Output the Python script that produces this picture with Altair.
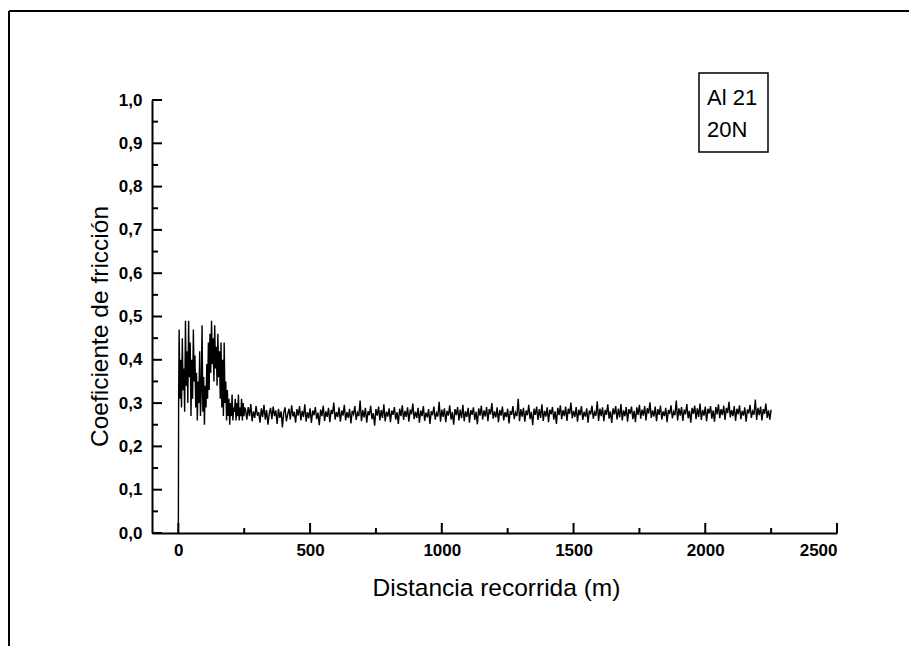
import altair as alt
import pandas as pd

# ---- data ----
dist_start = [0, 1] + list(range(3, 253, 3))
coef_start = [0.0, 0.30,
              0.47, 0.31, 0.40, 0.29, 0.45, 0.33, 0.38, 0.28, 0.49, 0.34,
              0.42, 0.30, 0.49, 0.36, 0.44, 0.27, 0.40, 0.31, 0.47, 0.35,
              0.41, 0.29, 0.37, 0.26, 0.35, 0.30, 0.42, 0.27, 0.33, 0.48,
              0.28, 0.36, 0.25, 0.34, 0.29, 0.39, 0.31, 0.44, 0.33, 0.46,
              0.37, 0.49, 0.39, 0.45, 0.35, 0.48, 0.38, 0.43, 0.34, 0.46,
              0.36, 0.42, 0.31, 0.44, 0.29, 0.40, 0.27, 0.44, 0.30, 0.35,
              0.26, 0.33, 0.27, 0.31, 0.25, 0.30, 0.27, 0.32, 0.26, 0.29,
              0.28, 0.31, 0.26, 0.30, 0.27, 0.32, 0.26, 0.29, 0.27, 0.31,
              0.26, 0.30, 0.27, 0.29]

dist_steady = list(range(255, 2255, 5))
coef_steady = [
    .285, .262, .291, .270, .298, .258, .281, .266, .293, .271,
    .279, .255, .288, .268, .296, .262, .284, .250, .276, .289,
    .263, .292, .270, .283, .252, .287, .266, .281, .244, .278,
    .290, .258, .274, .287, .262, .295, .269, .280, .255, .286,
    .271, .293, .260, .282, .268, .297, .257, .279, .265, .288,
    .254, .283, .272, .291, .263, .278, .249, .285, .270, .294,
    .259, .281, .268, .289, .256, .284, .275, .301, .262, .279,
    .268, .290, .257, .283, .271, .296, .260, .279, .266, .287,
    .253, .282, .274, .293, .261, .278, .270, .306, .258, .284,
    .267, .289, .255, .281, .272, .294, .263, .277, .248, .286,
    .271, .292, .260, .284, .266, .297, .258, .280, .269, .288,
    .256, .283, .273, .291, .262, .279, .252, .287, .270, .295,
    .261, .282, .268, .290, .257, .285, .274, .299, .263, .280,
    .266, .289, .255, .283, .270, .293, .259, .278, .267, .286,
    .252, .281, .272, .292, .262, .277, .269, .303, .257, .285,
    .268, .288, .256, .282, .271, .295, .262, .279, .250, .286,
    .272, .291, .260, .285, .265, .296, .258, .281, .268, .289,
    .255, .284, .273, .290, .261, .280, .251, .288, .271, .294,
    .262, .283, .269, .291, .258, .286, .274, .300, .264, .281,
    .267, .290, .256, .284, .271, .292, .260, .279, .268, .287,
    .253, .282, .273, .293, .263, .278, .270, .310, .258, .286,
    .269, .289, .257, .283, .272, .296, .263, .280, .249, .287,
    .273, .292, .261, .286, .266, .297, .259, .282, .269, .290,
    .256, .285, .274, .291, .262, .281, .252, .289, .272, .295,
    .263, .284, .270, .292, .259, .287, .275, .301, .265, .282,
    .268, .291, .257, .285, .272, .293, .261, .280, .269, .288,
    .255, .283, .274, .294, .264, .279, .271, .304, .259, .287,
    .270, .290, .258, .284, .273, .297, .264, .281, .254, .288,
    .274, .293, .262, .287, .267, .298, .260, .283, .270, .291,
    .257, .286, .275, .292, .263, .282, .256, .290, .273, .296,
    .264, .285, .271, .293, .260, .288, .276, .302, .266, .283,
    .269, .292, .258, .286, .273, .294, .262, .281, .270, .289,
    .256, .284, .275, .295, .265, .280, .272, .306, .260, .288,
    .271, .291, .259, .285, .274, .298, .265, .282, .255, .289,
    .275, .294, .263, .288, .268, .299, .261, .284, .271, .292,
    .258, .287, .276, .293, .264, .283, .257, .291, .274, .297,
    .265, .286, .272, .294, .261, .289, .277, .303, .267, .284,
    .270, .293, .259, .287, .274, .295, .263, .282, .271, .290,
    .257, .285, .276, .296, .266, .281, .273, .308, .261, .289,
    .272, .292, .260, .286, .275, .299, .266, .283, .262, .285,
]

x_major = [0, 500, 1000, 1500, 2000, 2500]
x_minor = [250, 750, 1250, 1750, 2250]
y_major = [0.0, 0.1, 0.2, 0.3, 0.4, 0.5, 0.6, 0.7, 0.8, 0.9, 1.0]
y_minor = [0.05, 0.15, 0.25, 0.35, 0.45, 0.55, 0.65, 0.75, 0.85, 0.95]
legend_lines = ["Al 21", "20N"]

FONT = "Liberation Sans"
W, H = 685, 433

df = pd.DataFrame({"d": dist_start + dist_steady, "c": coef_start + coef_steady})
xs = alt.Scale(domain=[-100, 2500], nice=False, zero=False)
ys = alt.Scale(domain=[0, 1.0], nice=False)

xaxis = alt.Axis(
    title="Distancia recorrida (m)", values=x_major, format="d", ticks=False, grid=False,
    domainColor="black", domainWidth=2, labelFont=FONT, labelFontSize=17,
    labelFontWeight="bold", labelColor="black", labelPadding=9,
    titleFont=FONT, titleFontSize=24.5, titleFontWeight="normal", titleColor="black",
    titleX=344, titleY=62, titleBaseline="alphabetic", titleAlign="center")
yaxis = alt.Axis(
    title="Coeficiente de fricción", values=y_major, ticks=False, grid=False,
    domainColor="black", domainWidth=2, labelFont=FONT, labelFontSize=17,
    labelFontWeight="bold", labelColor="black", labelPadding=10,
    labelExpr="replace(format(datum.value, '.1f'), '.', ',')",
    titleFont=FONT, titleFontSize=24.5, titleFontWeight="normal", titleColor="black",
    titleX=-45, titleY=226, titleBaseline="alphabetic", titleAlign="center", titleAngle=270)

line = alt.Chart(df).mark_line(color="black", strokeWidth=1.4, clip=True).encode(
    x=alt.X("d:Q", scale=xs, axis=xaxis),
    y=alt.Y("c:Q", scale=ys, axis=yaxis),
    order="d:Q",
)

xmaj = alt.Chart(pd.DataFrame({"d": x_major})).mark_rule(color="black", strokeWidth=2).encode(
    x=alt.X("d:Q", scale=xs, axis=xaxis), y=alt.value(H), y2=alt.value(H - 10))
xmin = alt.Chart(pd.DataFrame({"d": x_minor})).mark_rule(color="black", strokeWidth=2).encode(
    x=alt.X("d:Q", scale=xs, axis=xaxis), y=alt.value(H), y2=alt.value(H - 5))
ymaj = alt.Chart(pd.DataFrame({"c": y_major})).mark_rule(color="black", strokeWidth=2).encode(
    y=alt.Y("c:Q", scale=ys, axis=yaxis), x=alt.value(0), x2=alt.value(10))
ymin = alt.Chart(pd.DataFrame({"c": y_minor})).mark_rule(color="black", strokeWidth=2).encode(
    y=alt.Y("c:Q", scale=ys, axis=yaxis), x=alt.value(0), x2=alt.value(6))

box = alt.Chart(pd.DataFrame({"k": [0]})).mark_rect(
    fill="white", stroke="black", strokeWidth=1.5).encode(
    x=alt.value(547), x2=alt.value(616), y=alt.value(-27), y2=alt.value(52))
t1 = alt.Chart(pd.DataFrame({"t": [legend_lines[0]]})).mark_text(
    font=FONT, fontSize=22, align="left", baseline="alphabetic", color="black").encode(
    x=alt.value(555), y=alt.value(5), text="t:N")
t2 = alt.Chart(pd.DataFrame({"t": [legend_lines[1]]})).mark_text(
    font=FONT, fontSize=22, align="left", baseline="alphabetic", color="black").encode(
    x=alt.value(555), y=alt.value(37), text="t:N")

frame_top = alt.Chart(pd.DataFrame({"k": [0]})).mark_rule(color="black", strokeWidth=2).encode(
    x=alt.value(-143), x2=alt.value(757), y=alt.value(-89))
frame_left = alt.Chart(pd.DataFrame({"k": [0]})).mark_rule(color="black", strokeWidth=2).encode(
    x=alt.value(-143), y=alt.value(-89), y2=alt.value(546))

chart = alt.layer(line, xmaj, xmin, ymaj, ymin, box, t1, t2, frame_top, frame_left).properties(
    width=W, height=H,
    autosize=alt.AutoSizeParams(type="none"),
    padding={"left": 144, "top": 92, "right": 72, "bottom": 113},
    background="white",
).configure_view(stroke=None)

chart.save("out.html", embed_options={"renderer": "svg", "actions": False})
